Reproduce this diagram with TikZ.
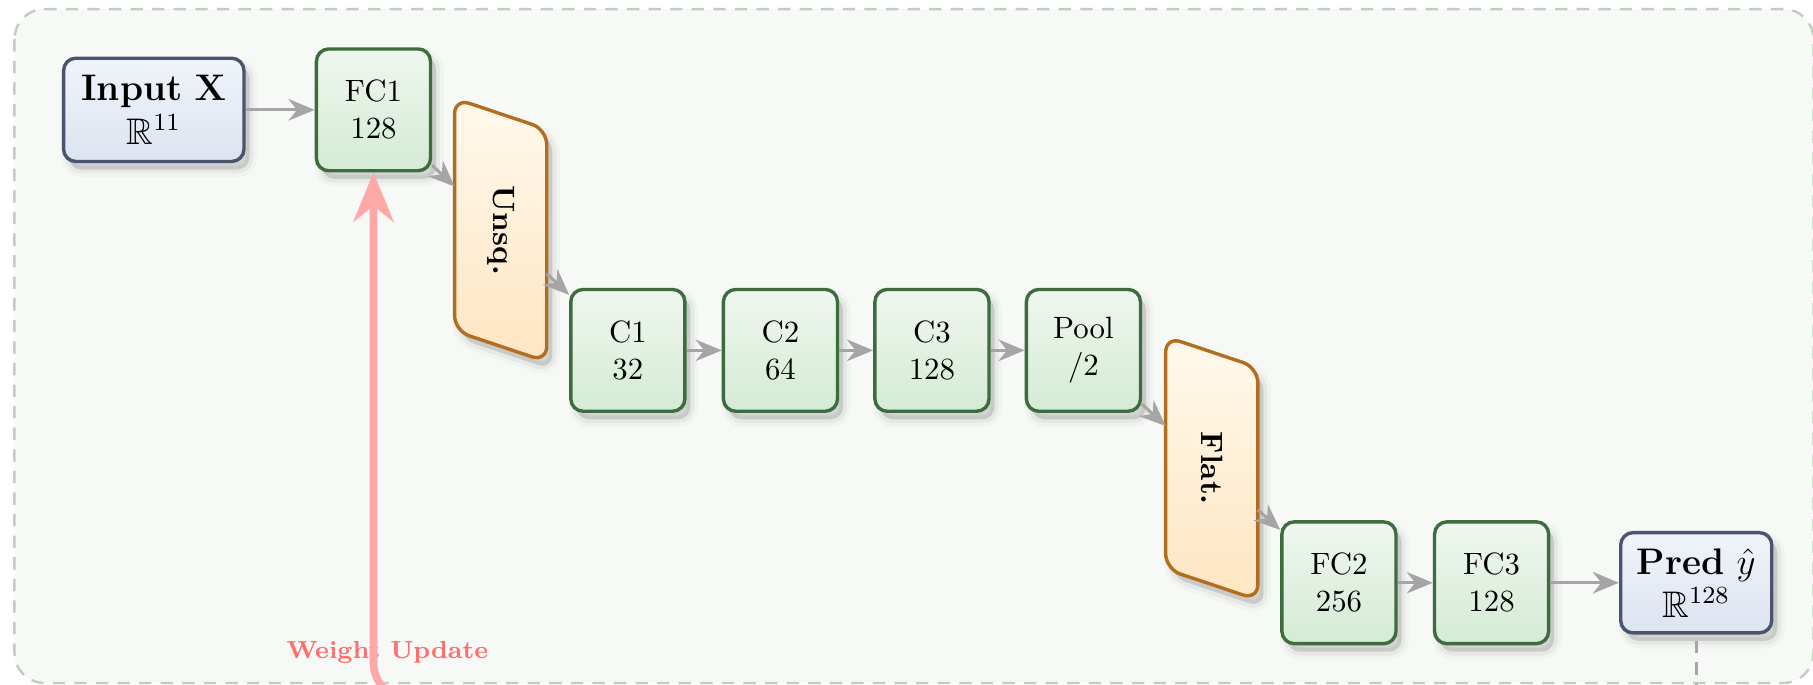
\documentclass[tikz,border=0pt]{standalone}
\usepackage{amssymb}
\usetikzlibrary{arrows.meta,shadows}
\definecolor{bgfill}{RGB}{246,249,246}
\definecolor{bgdash}{RGB}{192,206,192}
\definecolor{gborder}{RGB}{62,108,62}
\definecolor{gtop}{RGB}{239,247,239}
\definecolor{gbot}{RGB}{212,235,212}
\definecolor{bborder}{RGB}{74,84,110}
\definecolor{btop}{RGB}{240,244,250}
\definecolor{bbot}{RGB}{220,228,240}
\definecolor{oborder}{RGB}{178,110,30}
\definecolor{otop}{RGB}{255,249,236}
\definecolor{obot}{RGB}{255,229,194}
\definecolor{conncol}{RGB}{165,165,165}
\definecolor{wucol}{RGB}{255,168,168}
\definecolor{wutext}{RGB}{255,110,110}
\begin{document}
\begin{tikzpicture}[x=0.375pt,y=-0.375pt,
  shadowed/.style={
    general shadow={draw=black,line width=5pt,draw opacity=0.025,fill=black,fill opacity=0.12,shadow xshift=1.8pt,shadow yshift=-2.6pt},
    general shadow={draw=black,line width=2.5pt,draw opacity=0.045,shadow xshift=1.8pt,shadow yshift=-2.6pt}},
  layer/.style={draw=gborder,line width=1.1pt,rounded corners=4pt,top color=gtop,bottom color=gbot,
    minimum width=37pt,minimum height=39.5pt,align=center,inner sep=2pt,shadowed},
  io/.style={draw=bborder,line width=1.1pt,rounded corners=4pt,top color=btop,bottom color=bbot,
    align=center,font=\large,inner sep=1pt,shadowed},
  reshape/.style={draw=none,minimum width=29.5pt,minimum height=85pt,inner sep=0pt},
  reshapebody/.style={draw=oborder,line width=1.1pt,rounded corners=5pt,top color=otop,bottom color=obot,shadowed},
  reshapetext/.style={rotate=-90,font=\bfseries,inner sep=0pt},
  conn/.style={draw=conncol,line width=1pt,-{Stealth[length=8.5pt,width=7pt]}},
  wu/.style={draw=wucol,line width=2.5pt,rounded corners=12pt,-{Stealth[length=16pt,width=13pt]}},
  wulab/.style={text=wutext,font=\footnotesize\bfseries},
  lossdash/.style={draw=conncol,line width=1pt,dash pattern=on 4pt off 3pt}
]
\useasboundingbox (0,0) rectangle (1568,592.4);
\clip (0,0) rectangle (1568,592.4);
% background panel
\draw[draw=bgdash,fill=bgfill,line width=0.8pt,dash pattern=on 4pt off 3pt,rounded corners=9.8pt]
  (12.5,7.8) rectangle (1568.4,590.7);

% nodes
\node[io,minimum width=58.5pt,minimum height=33.5pt] (input) at (133,95) {\textbf{Input} $\mathbf{X}$\\$\mathbb{R}^{11}$};
\node[layer] (fc1) at (323,95) {FC1\\128};

\node[reshape] (unsq) at (433,199) {};
\path[reshapebody] (unsq.north west) -- ([yshift=-10pt]unsq.north east) -- (unsq.south east)
  -- ([yshift=10pt]unsq.south west) -- cycle;
\node[reshapetext] (unsqtxt) at (unsq) {Unsq.};

\node[layer] (c1) at (543,303) {C1\\32};
\node[layer] (c2) at (675,303) {C2\\64};
\node[layer] (c3) at (806,303) {C3\\128};
\node[layer] (pool) at (937,303) {Pool\\/2};

\node[reshape] (flat) at (1048,405) {};
\path[reshapebody] (flat.north west) -- ([yshift=-10pt]flat.north east) -- (flat.south east)
  -- ([yshift=10pt]flat.south west) -- cycle;
\node[reshapetext] (flattxt) at (flat) {Flat.};

\node[layer] (fc2) at (1158,504) {FC2\\256};
\node[layer] (fc3) at (1290,504) {FC3\\128};
\node[io,minimum width=49pt,minimum height=32.5pt] (pred) at (1467,504) {\textbf{Pred} $\hat{y}$\\$\mathbb{R}^{128}$};

% connectors
\draw[conn] (input) -- (fc1);
\draw[conn] (fc1) -- (unsq);
\draw[conn] (unsq) -- (c1);
\draw[conn] (c1) -- (c2);
\draw[conn] (c2) -- (c3);
\draw[conn] (c3) -- (pool);
\draw[conn] (pool) -- (flat);
\draw[conn] (flat) -- (fc2);
\draw[conn] (fc2) -- (fc3);
\draw[conn] (fc3) -- (pred);

% loss link (continues below the visible area)
\coordinate (lossin) at (1467,640);
\draw[lossdash] ([yshift=-2pt]pred.south) -- (lossin);

% weight update feedback
\node[wulab] (wulabel) at (335,564) {Weight Update};
\coordinate (wustart) at (1300,605);
\draw[wu] (wustart) -| (fc1.south);
\end{tikzpicture}
\end{document}
